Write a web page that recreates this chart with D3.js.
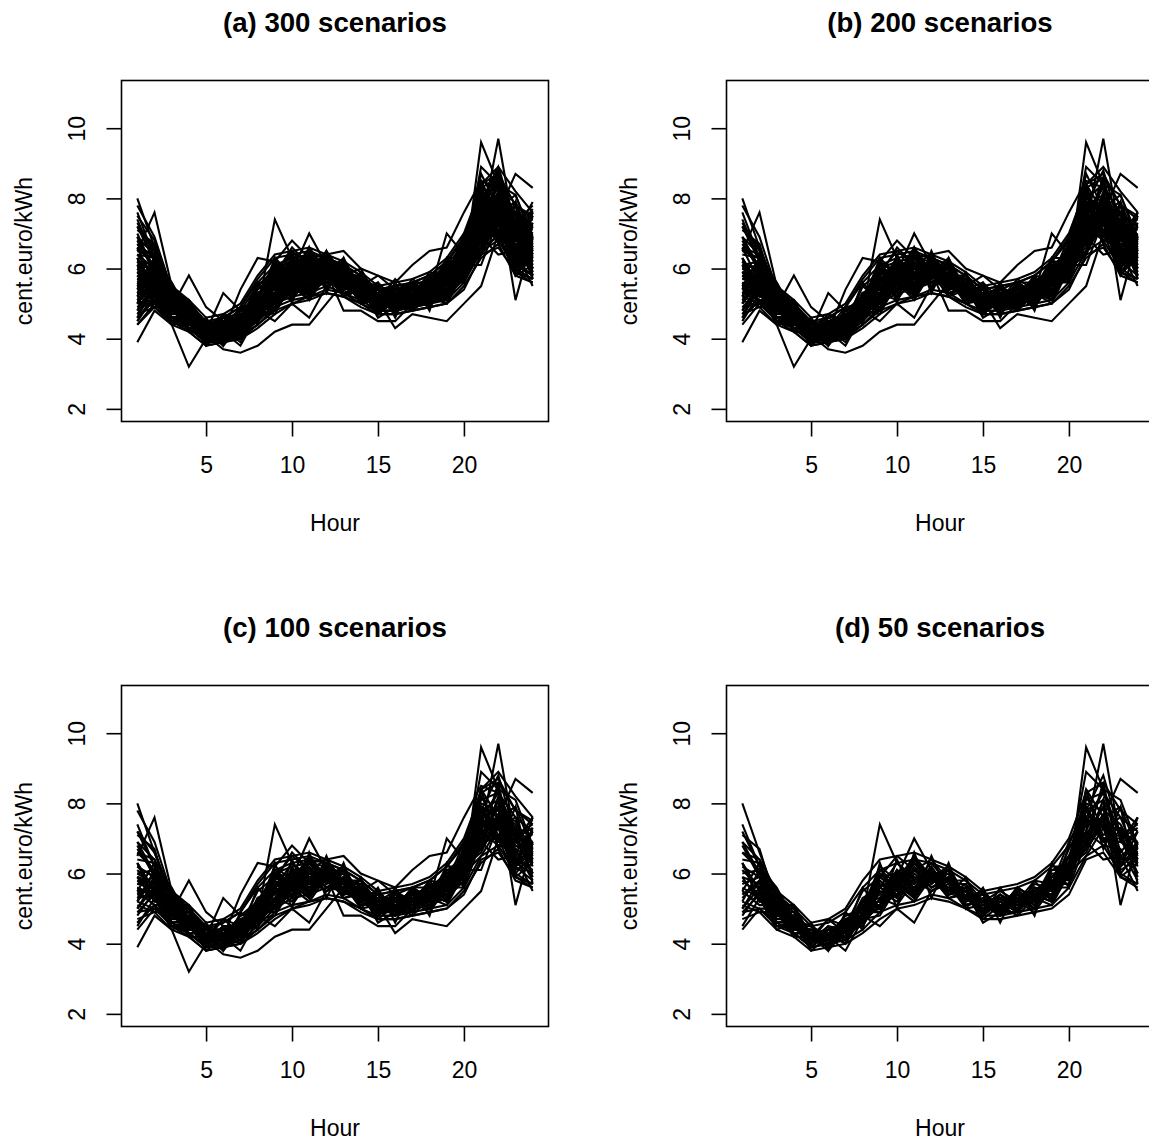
<!doctype html>
<html>
  <head>
    <script src="https://cdn.jsdelivr.net/npm/d3@7"></script>
    <style>
      body { margin: 0; background: #fff; }
      text { font-family: "Liberation Sans", Arial, Helvetica, sans-serif; fill: #000; }
    </style>
  </head>
  <body>
    <svg id="chart" width="1149" height="1142"></svg>

    <script>
      // hours of the day on the x axis
      var hours = [1,2,3,4,5,6,7,8,9,10,11,12,13,14,15,16,17,18,19,20,21,22,23,24];

      // price scenarios (cent.euro/kWh), one row per scenario
      var scenarios = [
        [8.0,6.6,5.3,4.9,4.3,4.4,4.6,5.2,5.9,6.0,6.1,6.0,5.8,5.5,5.2,5.2,5.4,5.5,5.9,6.5,7.8,8.1,7.2,6.9],
        [4.4,5.0,4.6,4.3,3.9,4.0,4.2,4.6,5.1,5.4,5.6,5.8,5.6,5.3,5.0,5.0,5.1,5.2,5.4,5.9,9.6,8.4,7.0,6.4],
        [5.9,5.7,5.0,4.6,4.1,4.1,4.3,4.8,7.4,6.3,5.9,5.8,5.6,5.3,5.0,5.1,5.2,5.3,5.6,6.2,7.2,9.7,6.9,6.6],
        [6.2,5.9,5.1,4.7,4.2,4.3,4.5,5.0,5.6,5.9,7.0,6.1,5.8,5.5,5.2,5.1,5.3,5.4,5.7,6.3,7.4,7.6,8.7,8.3],
        [5.3,5.8,4.6,4.7,3.9,4.4,4.2,4.9,5.1,5.9,5.5,6.0,5.5,5.6,4.9,5.3,5.0,5.5,5.3,6.2,6.8,7.6,6.3,6.6],
        [6.8,5.9,5.4,4.5,4.5,4.0,4.7,4.8,6.0,5.6,6.4,5.7,6.1,5.3,5.5,4.9,5.5,5.2,6.1,6.1,8.2,7.3,7.6,6.4],
        [5.6,5.3,5.1,4.4,4.3,4.0,4.6,4.7,5.8,5.4,6.1,5.6,5.9,5.1,5.2,4.9,5.4,5.0,5.8,5.9,7.6,7.0,7.1,6.0],
        [4.8,5.5,4.5,4.6,3.8,4.2,3.8,4.7,4.8,5.6,5.2,5.9,5.3,5.4,4.7,5.1,4.8,5.3,5.1,6.0,6.5,7.3,5.9,6.3],
        [7.1,6.7,5.1,5.1,4.2,4.7,4.5,5.5,5.9,6.5,6.1,6.4,5.8,5.8,5.2,5.5,5.2,5.8,5.7,6.9,7.8,8.8,7.1,7.4],
        [5.8,5.4,5.2,4.4,4.4,4.1,4.6,4.7,5.7,5.4,6.1,5.8,6.0,5.3,5.4,4.9,5.4,5.1,5.9,6.0,7.8,7.0,5.9,5.7],
        [6.4,6.3,4.9,4.9,4.1,4.4,4.3,5.2,5.3,6.1,5.7,6.2,5.5,5.6,5.0,5.4,5.1,5.6,5.5,6.5,7.2,8.4,6.6,7.2],
        [5.2,5.0,5.0,4.2,4.2,3.9,4.5,4.5,5.5,5.2,5.9,5.5,5.8,5.1,5.2,4.8,5.3,5.0,5.7,5.7,7.2,6.8,6.7,5.8],
        [6.0,6.1,4.8,4.8,4.0,4.4,4.2,5.1,5.4,6.1,5.7,6.1,5.5,5.6,4.9,5.3,5.0,5.6,5.5,6.3,6.8,8.1,5.1,6.9],
        [5.5,5.1,5.1,4.3,4.3,3.9,4.5,4.6,5.6,5.3,6.0,5.6,5.8,5.1,5.2,4.8,5.3,5.0,5.8,5.7,7.5,7.0,6.9,7.6],
        [6.6,6.4,5.0,5.0,4.1,4.5,4.4,5.3,5.6,6.3,5.8,6.3,5.7,5.7,5.1,5.4,5.1,5.7,5.6,6.7,7.6,8.3,7.0,7.3],
        [5.1,4.9,4.9,4.2,4.2,3.8,4.4,4.5,5.3,5.1,5.8,5.5,5.7,5.0,5.1,4.8,5.2,4.9,5.6,5.6,6.9,6.4,6.5,5.5],
        [5.7,5.9,4.8,4.8,4.0,4.4,4.2,5.1,5.2,6.0,5.6,6.1,5.5,5.6,4.9,5.3,5.0,5.5,5.4,6.3,7.1,7.9,6.5,6.8],
        [6.3,5.5,5.2,4.4,4.4,4.0,4.6,4.8,4.5,5.0,4.6,5.5,5.8,5.1,5.3,4.9,5.4,5.1,5.9,5.9,7.6,7.0,7.0,6.0],
        [4.9,5.4,4.5,4.5,3.9,4.3,4.0,4.8,5.0,5.8,5.4,6.0,5.4,5.5,4.6,4.9,4.9,5.4,5.2,6.1,6.7,7.5,6.1,6.4],
        [7.4,6.2,5.6,4.7,4.5,4.2,4.8,5.0,6.2,5.8,6.5,5.9,6.2,5.3,5.4,5.0,5.6,5.3,6.1,6.3,8.9,8.4,8.1,6.8],
        [5.4,5.8,4.7,4.7,4.0,4.4,4.2,5.1,5.1,6.0,5.5,6.1,5.5,5.6,4.9,5.3,5.0,5.5,5.3,6.2,6.9,7.7,6.3,6.7],
        [6.1,5.6,5.3,4.5,4.4,4.1,4.7,4.8,5.9,5.6,6.3,5.8,6.0,5.2,5.4,4.9,5.5,5.2,5.9,6.0,7.8,7.3,7.3,6.3],
        [5.0,5.6,4.6,4.6,3.9,4.3,4.1,4.9,5.0,5.8,5.3,6.0,5.4,5.5,4.8,5.2,4.9,5.4,5.2,6.2,6.7,7.4,6.2,6.6],
        [6.9,6.0,5.4,4.6,4.5,4.1,4.7,4.9,6.0,5.6,6.4,5.8,6.1,5.3,5.5,5.0,5.6,5.3,6.1,6.1,8.0,7.8,7.4,6.5],
        [5.2,6.1,4.7,4.8,4.0,4.4,4.2,5.1,5.2,6.0,5.5,6.1,5.5,5.6,4.9,5.3,5.0,5.5,5.4,6.3,7.0,7.9,6.4,6.9],
        [6.3,5.5,5.3,4.4,4.4,4.0,4.7,4.8,5.9,5.5,6.3,5.7,6.1,5.2,5.4,4.9,5.5,5.2,6.0,6.0,7.9,7.1,7.3,6.2],
        [4.5,5.3,4.4,4.6,3.9,4.3,4.0,4.9,4.9,5.7,5.3,6.0,5.3,5.5,4.8,5.2,4.9,5.4,5.2,6.2,6.6,7.6,6.0,6.6],
        [7.2,6.2,5.5,4.6,4.5,4.2,4.8,4.9,6.1,5.7,6.5,5.8,6.2,5.3,5.5,5.0,5.6,5.3,6.2,6.2,8.4,7.6,7.9,6.7],
        [5.9,5.2,5.1,4.3,4.3,3.9,4.6,4.6,5.8,5.3,6.2,5.6,5.9,5.1,5.3,4.8,5.4,5.0,5.9,5.8,7.6,6.9,7.2,5.9],
        [5.0,5.8,4.6,4.7,4.0,4.5,4.1,5.2,5.0,6.1,5.4,6.2,5.4,5.7,4.8,5.4,4.9,5.6,5.3,6.5,6.8,8.1,6.2,7.2],
        [6.9,6.4,5.5,5.1,4.6,4.7,5.0,5.8,6.4,6.5,6.6,6.4,6.2,5.9,5.5,5.6,5.7,5.9,6.3,7.0,8.3,8.6,7.8,7.4],
        [4.7,4.9,4.4,4.2,3.8,3.9,4.0,4.3,4.7,5.0,5.1,5.3,5.2,5.0,4.7,4.7,4.8,4.9,5.0,5.4,6.4,6.6,5.9,5.6],
        [5.5,6.3,4.9,5.1,4.1,4.7,4.3,5.6,5.0,6.4,5.3,6.5,5.4,5.9,4.8,5.6,4.9,5.8,5.2,6.8,6.9,8.6,6.2,7.6],
        [6.3,5.2,5.4,4.2,4.6,3.8,4.9,4.4,6.3,5.0,6.6,5.3,6.3,5.0,5.6,4.6,5.6,4.8,6.3,5.6,8.4,6.7,7.9,5.7],
        [6.6,6.1,5.4,5.0,4.5,4.6,4.9,5.6,6.1,6.3,6.4,6.3,6.1,5.8,5.4,5.5,5.6,5.8,6.2,6.8,8.1,8.3,7.6,7.2],
        [4.9,5.0,4.5,4.3,3.9,4.0,4.1,4.4,4.9,5.1,5.2,5.4,5.3,5.0,4.8,4.8,4.9,5.0,5.1,5.6,6.5,6.8,6.0,5.7],
        [3.9,4.8,4.4,3.2,4.0,4.1,4.3,4.7,5.2,5.5,5.7,5.8,5.6,5.3,5.0,5.0,5.1,5.2,5.4,5.9,6.9,7.0,6.3,6.0],
        [6.5,7.6,5.5,5.0,4.4,4.4,4.6,5.1,5.7,6.0,6.1,6.0,5.8,5.5,5.2,5.2,5.3,5.4,5.8,6.3,7.6,7.8,7.0,6.8],
        [5.6,5.4,4.9,5.8,4.9,4.5,4.5,4.9,5.5,5.7,5.9,5.9,5.7,5.4,5.1,5.1,5.2,5.3,5.6,6.1,7.2,7.4,6.7,6.4],
        [5.8,5.6,5.0,4.6,4.2,5.3,4.8,5.2,5.8,6.6,6.1,6.0,5.8,5.5,5.2,5.1,5.2,5.4,5.7,6.2,7.4,7.6,6.9,6.6],
        [6.0,5.7,5.0,4.6,4.1,4.2,5.4,6.3,6.2,6.8,6.3,6.4,6.5,6.0,5.8,5.4,5.6,5.6,5.9,6.4,7.6,7.9,7.1,6.8],
        [5.4,5.3,4.8,4.5,4.1,3.7,3.6,3.8,4.2,4.4,4.4,5.0,5.6,5.3,5.0,5.0,5.1,5.2,5.5,5.9,7.0,7.1,6.4,6.1],
        [5.5,5.5,4.9,4.6,4.2,4.2,4.4,4.9,5.5,5.7,5.8,5.9,5.7,5.5,5.8,5.6,6.1,6.5,6.6,7.6,8.5,8.3,7.2,6.8],
        [6.2,5.9,5.1,4.7,4.2,4.3,4.5,5.0,5.6,5.9,6.0,6.0,5.8,5.4,5.1,4.3,4.7,4.6,4.5,5.0,5.5,7.0,6.4,6.1],
        [5.7,5.6,5.0,4.6,4.2,4.2,4.4,4.9,5.5,5.8,5.9,5.9,4.8,4.8,4.5,4.5,5.0,5.3,5.7,6.2,7.3,7.5,6.8,6.5],
        [4.6,5.1,4.6,4.3,3.9,3.9,4.1,4.5,5.0,5.3,5.4,5.6,5.5,5.2,4.9,4.9,5.0,5.1,5.3,5.8,7.0,7.1,6.2,5.8],
        [7.8,6.9,5.4,4.9,4.4,4.4,4.6,5.2,6.0,6.2,6.3,6.2,6.0,5.6,5.3,5.3,5.4,5.6,6.0,6.6,8.4,8.9,8.2,7.6],
        [5.9,5.7,5.0,4.6,4.1,4.2,4.4,4.9,5.5,5.8,5.9,5.9,5.7,5.4,5.1,5.1,5.2,5.3,7.0,6.4,7.3,7.5,6.8,6.5],
        [5.3,5.4,4.8,4.5,4.1,4.1,4.3,4.8,5.3,5.6,5.7,5.8,5.6,5.3,5.0,5.0,5.2,5.3,5.6,6.1,6.1,7.4,6.6,6.3],
        [6.7,6.0,5.1,4.7,4.2,4.3,4.5,5.0,5.7,5.9,6.0,6.0,5.8,5.5,5.2,5.2,5.3,5.5,5.8,6.3,7.7,7.9,7.3,7.1],
        [5.9,5.5,5.2,4.5,4.4,4.2,4.6,5.0,5.9,5.8,6.3,6.0,6.1,5.4,5.4,5.0,5.5,5.4,6.0,6.3,7.9,7.6,7.5,6.6],
        [5.2,5.9,4.7,4.9,4.0,4.5,4.2,5.3,5.0,6.2,5.4,6.3,5.5,5.8,4.8,5.5,4.9,5.7,5.2,6.6,6.8,8.2,6.2,7.3],
        [7.2,6.6,5.4,5.0,4.4,4.6,4.9,5.7,6.3,6.4,6.5,6.3,6.1,5.8,5.4,5.5,5.6,5.8,6.2,6.9,8.4,8.7,7.8,7.5],
        [4.6,5.1,4.5,4.2,3.8,3.9,4.0,4.4,4.8,5.0,5.2,5.3,5.2,4.9,4.7,4.7,4.8,4.9,5.0,5.5,6.3,6.7,5.8,5.6],
        [6.6,5.6,5.4,4.5,4.4,4.0,4.7,4.7,6.0,5.4,6.4,5.6,6.0,5.1,5.4,4.8,5.5,5.1,6.1,5.9,8.1,7.0,7.6,6.1],
        [4.8,5.6,4.5,4.7,3.9,4.4,4.0,5.0,4.8,5.9,5.2,6.1,5.2,5.6,4.7,5.3,4.8,5.5,5.1,6.3,6.5,7.8,6.0,6.8],
        [6.1,6.2,4.9,4.9,4.1,4.5,4.3,5.3,5.3,6.2,5.6,6.3,5.6,5.8,5.0,5.5,5.1,5.7,5.5,6.6,7.1,8.5,6.5,7.5],
        [5.6,5.0,5.1,4.3,4.3,3.9,4.5,4.5,5.7,5.2,6.1,5.5,5.8,5.0,5.2,4.7,5.3,4.9,5.8,5.6,7.4,6.8,7.0,5.7],
        [7.6,6.3,5.6,4.7,4.5,4.3,4.9,5.0,6.3,5.8,6.6,5.9,6.3,5.4,5.6,5.1,5.7,5.4,6.3,6.3,8.7,7.7,8.1,6.9],
        [4.7,5.4,4.4,4.5,3.8,4.3,3.9,4.8,4.7,5.6,5.1,5.9,5.2,5.4,4.7,5.1,4.8,5.3,5.0,6.0,6.4,7.4,5.8,6.4],
        [5.4,5.9,4.8,4.8,4.1,4.5,4.2,5.1,5.1,6.0,5.5,6.1,5.5,5.6,4.9,5.3,5.0,5.5,5.4,6.4,7.0,8.0,6.4,7.0],
        [6.2,5.4,5.2,4.4,4.4,4.1,4.6,4.8,5.9,5.5,6.2,5.7,6.0,5.2,5.4,4.9,5.4,5.2,6.0,6.0,7.8,7.2,7.4,6.3],
        [5.0,5.7,4.6,4.6,4.0,4.4,4.1,5.0,5.0,5.8,5.3,6.0,5.4,5.5,4.8,5.2,4.9,5.4,5.2,6.2,6.7,7.7,6.1,6.7],
        [6.9,6.0,5.4,4.6,4.5,4.1,4.7,4.9,6.1,5.6,6.4,5.8,6.2,5.3,5.5,5.0,5.6,5.3,6.2,6.1,8.2,7.4,7.8,6.5],
        [4.6,5.5,4.5,4.6,3.9,4.3,4.0,4.9,4.8,5.7,5.2,6.0,5.3,5.5,4.7,5.2,4.8,5.4,5.1,6.1,6.5,7.5,5.9,6.5],
        [5.8,5.3,5.0,4.4,4.2,4.0,4.5,4.7,5.7,5.4,6.0,5.6,5.9,5.1,5.3,4.8,5.3,5.1,5.8,5.8,7.5,7.0,7.1,6.0],
        [6.5,6.3,5.0,4.9,4.2,4.5,4.3,5.3,5.4,6.3,5.7,6.3,5.6,5.8,5.0,5.5,5.1,5.7,5.6,6.7,7.2,8.6,6.6,7.6],
        [5.3,5.1,4.9,4.3,4.2,3.9,4.4,4.6,5.5,5.3,5.9,5.6,5.8,5.0,5.2,4.8,5.2,5.0,5.7,5.7,7.3,6.9,6.9,5.8],
        [7.3,6.5,5.3,4.8,4.3,4.4,4.5,5.1,5.8,6.1,6.1,6.1,5.8,5.6,5.2,5.3,5.3,5.5,5.9,6.5,8.0,8.4,7.5,7.2],
        [5.1,5.8,4.6,4.7,4.0,4.4,4.1,5.1,5.0,5.9,5.3,6.1,5.4,5.6,4.8,5.3,4.9,5.5,5.2,6.3,6.8,7.9,6.2,6.9],
        [6.1,5.0,5.3,4.3,4.5,3.9,4.8,4.5,6.2,5.1,6.5,5.4,6.2,5.0,5.5,4.7,5.5,4.9,6.2,5.7,8.3,6.9,7.8,5.8],
        [5.4,6.2,4.8,5.0,4.1,4.6,4.3,5.5,5.1,6.3,5.4,6.4,5.4,5.8,4.9,5.5,5.0,5.7,5.3,6.7,7.0,8.5,6.3,7.5],
        [5.6,6.0,4.8,4.9,4.1,4.5,4.3,5.2,5.2,6.1,5.6,6.2,5.6,5.7,5.0,5.4,5.0,5.6,5.4,6.4,7.2,8.2,6.5,7.3],
        [6.0,5.3,5.2,4.3,4.4,4.0,4.6,4.7,5.9,5.4,6.2,5.6,6.0,5.1,5.3,4.8,5.4,5.1,5.9,5.8,7.7,7.1,7.3,6.0],
        [4.5,5.2,4.6,4.5,4.0,4.3,4.1,4.8,5.0,5.7,5.3,5.9,5.3,5.5,4.8,5.2,4.9,5.3,5.1,6.1,6.6,7.3,6.0,6.4],
        [6.8,6.5,5.3,5.0,4.3,4.6,4.4,5.3,5.6,6.3,5.8,6.3,5.7,5.8,5.1,5.5,5.2,5.7,5.7,6.8,7.5,8.7,7.0,7.7],
        [5.7,5.2,5.0,4.4,4.2,4.0,4.5,4.6,5.6,5.3,6.0,5.6,5.9,5.1,5.3,4.8,5.3,5.0,5.8,5.8,7.4,6.9,7.0,5.9],
        [7.0,5.9,5.5,4.6,4.5,4.2,4.8,4.9,6.2,5.7,6.5,5.8,6.2,5.3,5.5,5.0,5.6,5.3,6.2,6.2,8.5,7.5,7.9,6.6],
        [5.0,5.6,4.6,4.6,3.9,4.3,4.1,5.0,4.9,5.8,5.3,6.0,5.4,5.5,4.8,5.2,4.9,5.4,5.2,6.2,6.7,7.6,6.1,6.6],
        [6.4,5.7,5.2,4.5,4.4,4.1,4.6,4.8,5.8,5.5,6.2,5.7,6.0,5.2,5.4,4.9,5.5,5.2,6.0,6.0,7.8,7.2,7.4,6.2],
        [5.3,5.9,4.7,4.8,4.0,4.4,4.2,5.1,5.1,6.0,5.5,6.1,5.5,5.6,4.9,5.3,5.0,5.5,5.3,6.3,7.0,7.9,6.3,6.9],
        [7.5,6.8,5.4,5.1,4.4,4.6,4.5,5.4,5.8,6.4,5.9,6.4,5.8,5.8,5.2,5.5,5.2,5.8,5.8,6.9,7.9,8.9,7.3,7.8],
        [4.4,4.9,4.5,4.3,3.9,4.1,4.0,4.6,4.8,5.5,5.1,5.8,5.2,5.4,4.7,5.1,4.8,5.2,5.0,5.9,6.4,7.0,5.8,6.1],
        [6.2,6.1,5.0,4.8,4.2,4.4,4.4,5.1,5.5,6.0,5.8,6.1,5.7,5.6,5.1,5.3,5.1,5.5,5.6,6.4,7.4,7.9,6.8,7.0],
        [6.4,6.0,5.3,4.9,4.4,4.5,4.8,5.5,6.0,6.2,6.3,6.2,6.0,5.7,5.4,5.4,5.5,5.7,6.1,6.7,7.9,8.1,7.5,7.0],
        [5.0,5.1,4.6,4.3,3.9,4.0,4.2,4.5,5.0,5.2,5.3,5.5,5.3,5.1,4.8,4.8,4.9,5.0,5.2,5.7,6.6,6.9,6.1,5.8],
        [5.8,5.4,5.2,4.4,4.4,4.1,4.6,4.8,5.8,5.6,6.2,5.8,6.0,5.3,5.3,4.9,5.4,5.2,5.9,6.1,7.7,7.3,7.3,6.4],
        [6.7,6.3,5.2,5.1,4.2,4.6,4.5,5.6,5.6,6.5,5.9,6.5,5.8,6.0,5.1,5.7,5.2,5.9,5.7,7.0,7.5,8.8,7.0,7.9]
      ];

      var panelTitles = ["(a) 300 scenarios", "(b) 200 scenarios", "(c) 100 scenarios", "(d) 50 scenarios"];
      // how many of the scenario rows each panel draws
      var panelCounts = [88, 72, 54, 36];
      var xTicks = [5, 10, 15, 20];
      var yTicks = [2, 4, 6, 8, 10];

      var svg = d3.select("#chart");

      // plot box inside one panel, panels repeat every 605px
      var x = d3.scaleLinear().domain([0.08, 24.92]).range([121.5, 548.5]);
      var y = d3.scaleLinear().domain([1.64, 11.36]).range([421.5, 80.5]);

      var line = d3.line()
        .x(function(d, i) { return x(hours[i]); })
        .y(function(d) { return y(d); });

      panelTitles.forEach(function(title, p) {
        var col = p % 2, row = Math.floor(p / 2);
        var g = svg.append("g")
          .attr("transform", "translate(" + (col * 605) + "," + (row * 605) + ")");

        g.append("g")
          .selectAll("path")
          .data(scenarios.slice(0, panelCounts[p]))
          .enter()
          .append("path")
            .attr("d", line)
            .attr("fill", "none")
            .attr("stroke", "#000")
            .attr("stroke-width", 2.1)
            .attr("stroke-linejoin", "miter");

        // box
        g.append("rect")
          .attr("x", 121.5).attr("y", 80.5)
          .attr("width", 427).attr("height", 341)
          .attr("fill", "none")
          .attr("stroke", "#000")
          .attr("stroke-width", 1.6);

        var xAxis = g.append("g")
          .attr("transform", "translate(0,421.5)")
          .call(d3.axisBottom(x).tickValues(xTicks).tickSize(15).tickPadding(20));
        xAxis.select(".domain").remove();
        xAxis.selectAll("line").attr("stroke-width", 1.6);
        xAxis.selectAll("text")
          .attr("font-size", "23px")
          .attr("font-family", "Liberation Sans, Arial, sans-serif");

        var yAxis = g.append("g")
          .attr("transform", "translate(121.5,0)")
          .call(d3.axisLeft(y).tickValues(yTicks).tickSize(15));
        yAxis.select(".domain").remove();
        yAxis.selectAll("line").attr("stroke-width", 1.6);
        yAxis.selectAll("text")
          .attr("x", 0).attr("dy", 0)
          .attr("text-anchor", "middle")
          .attr("transform", "translate(-37,0) rotate(-90)")
          .attr("font-size", "23px")
          .attr("font-family", "Liberation Sans, Arial, sans-serif");

        g.append("text")
          .attr("x", 335).attr("y", 32)
          .attr("text-anchor", "middle")
          .attr("font-size", "27.6px")
          .attr("font-weight", "bold")
          .text(title);

        g.append("text")
          .attr("x", 335).attr("y", 530.7)
          .attr("text-anchor", "middle")
          .attr("font-size", "23px")
          .text("Hour");

        g.append("text")
          .attr("transform", "translate(32,251) rotate(-90)")
          .attr("text-anchor", "middle")
          .attr("font-size", "23px")
          .text("cent.euro/kWh");
      });
    </script>
  </body>
</html>
